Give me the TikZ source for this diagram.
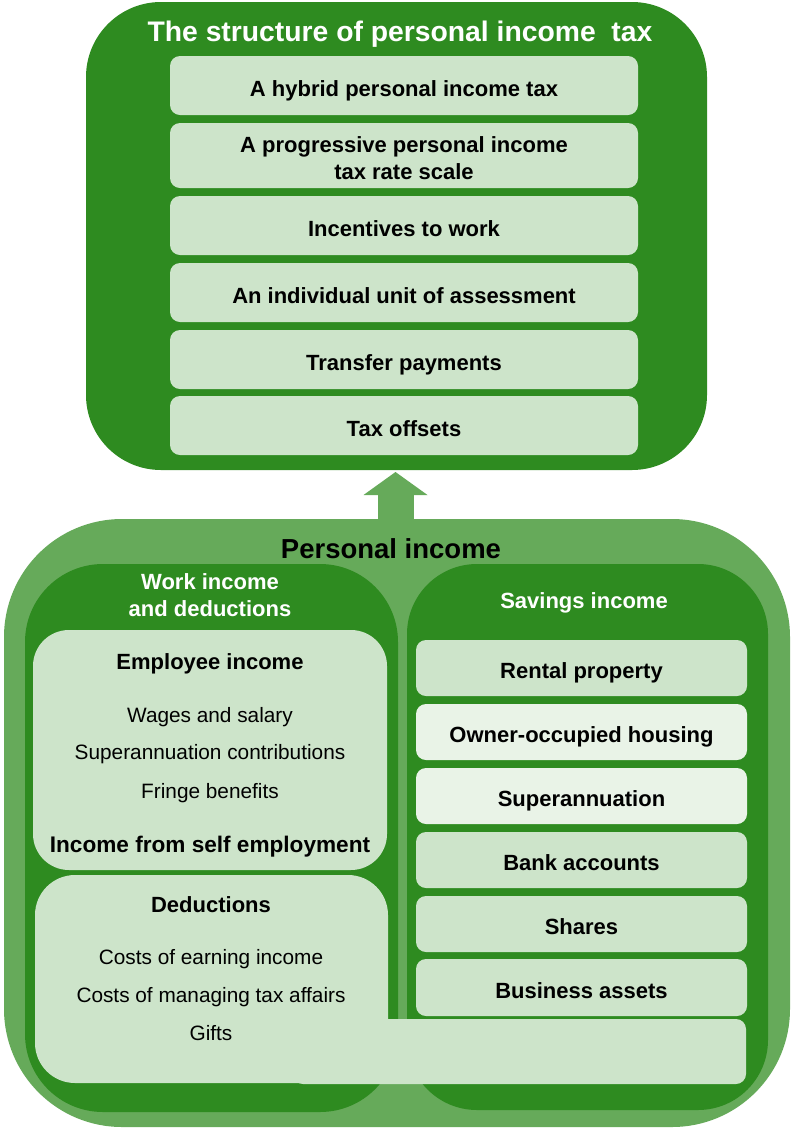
\documentclass[tikz,border=0pt]{standalone}
\usepackage{fontspec}
\setmainfont{Liberation Sans}
\usetikzlibrary{arrows.meta}
\definecolor{gdark}{HTML}{2E8B20}
\definecolor{gmid}{HTML}{66AA5A}
\definecolor{glight}{HTML}{CDE4CA}
\definecolor{gpale}{HTML}{E9F3E7}
\tikzset{
  panel/.style={rectangle, inner sep=0pt, draw=none},
  darkpanel/.style={panel, fill=gdark},
  midpanel/.style={panel, fill=gmid},
  lightpanel/.style={panel, fill=glight},
  itembox/.style={panel, rounded corners=10pt, font=\fontsize{22}{27}\selectfont\bfseries,
    align=center, text height=21pt, text depth=0pt},
  topitem/.style={itembox, fill=glight, minimum width=468pt},
  saveitem/.style={itembox, minimum width=331pt, minimum height=56pt},
  heading/.style={font=\fontsize{27.5}{32}\selectfont\bfseries, inner sep=0pt},
  subhead/.style={font=\fontsize{22}{27}\selectfont\bfseries, text=white, align=center, inner sep=0pt},
  boldline/.style={font=\fontsize{22}{27}\selectfont\bfseries, inner sep=0pt, text height=21pt, text depth=0pt},
  plainline/.style={font=\fontsize{20.8}{25}\selectfont, inner sep=0pt, text height=19pt, text depth=0pt},
}
\begin{document}
\begin{tikzpicture}[x=1pt, y=-1pt]
\useasboundingbox (0,0) rectangle (791,1128);

% outer frame of personal income
\node[midpanel, rounded corners=118pt, minimum width=786pt, minimum height=608pt] (income) at (397,823) {};

% tax structure panel centre (panel drawn after the arrow so the tip tucks under it)
\path (396.5,236) coordinate (structurec);

% block arrow from personal income up to the tax structure
\draw[gmid, line width=36pt, -{Triangle[width=64pt, length=23pt, line width=0pt]}]
  ([xshift=-1.5pt]income.north) -- ([xshift=-1.5pt, yshift=-2pt]income.north |- 0,470);

\node[darkpanel, rounded corners=75pt, minimum width=621pt, minimum height=468pt] (structure) at (structurec) {};
\node[heading, font=\fontsize{28.3}{32}\selectfont\bfseries, text=white] (title) at (400,34) {The structure of personal income~ tax};

\node[topitem, minimum height=59pt] (hybrid) at (404,85.5) {A hybrid personal income tax};
\node[topitem, minimum height=65pt, text height=48pt] (progressive) at (404,155.5) {A progressive personal income\\tax rate scale};
\node[topitem, minimum height=59pt] (incentives) at (404,225.5) {Incentives to work};
\node[topitem, minimum height=59pt] (unit) at (404,292.5) {An individual unit of assessment};
\node[topitem, minimum height=59pt] (transfer) at (404,359.5) {Transfer payments};
\node[topitem, minimum height=59pt] (offsets) at (404,425.5) {Tax offsets};

% personal income heading and the two columns
\node[heading] (pihead) at (391,549) {Personal income};

\node[darkpanel, rounded corners=78pt, minimum width=373pt, minimum height=548pt] (work) at (211.5,838) {};
\node[darkpanel, rounded corners=70pt, minimum width=361pt, minimum height=546pt] (savings) at (587.5,837) {};

\node[subhead] (workhead) at (210,595) {Work income\\and deductions};
\node[subhead] (savehead) at (584,602.5) {Savings income};

% work income column
\node[lightpanel, rounded corners=36pt, minimum width=354pt, minimum height=240pt] (employee) at (210,750) {};
\node[boldline] (emphead) at (210,659) {Employee income};
\node[plainline] (wages) at (210,713) {Wages and salary};
\node[plainline] (supercontrib) at (210,750) {Superannuation contributions};
\node[plainline] (fringe) at (210,789) {Fringe benefits};
\node[boldline, font=\fontsize{22.6}{27}\selectfont\bfseries] (selfemp) at (210,842) {Income from self employment};

\node[lightpanel, rounded corners=40pt, minimum width=353pt, minimum height=208pt] (deductions) at (211.5,979) {};
\node[boldline] (dedhead) at (211,902) {Deductions};
\node[plainline] (earning) at (211,955) {Costs of earning income};
\node[plainline] (managing) at (211,993) {Costs of managing tax affairs};
\node[plainline] (gifts) at (211,1031) {Gifts};

% savings income column
\node[saveitem, fill=glight] (rental) at (581.5,668) {Rental property};
\node[saveitem, fill=gpale] (owner) at (581.5,732) {Owner-occupied housing};
\node[saveitem, fill=gpale] (superann) at (581.5,796) {Superannuation};
\node[saveitem, fill=glight] (bank) at (581.5,860) {Bank accounts};
\node[saveitem, fill=glight] (shares) at (581.5,924) {Shares};
\node[saveitem, fill=glight, minimum height=57pt] (business) at (581.5,987.5) {Business assets};

% strip joining the deductions box across both columns
\node[lightpanel, rounded corners=10pt, minimum width=453pt, minimum height=65pt] (strip) at (519.5,1051.5) {};
\end{tikzpicture}
\end{document}
